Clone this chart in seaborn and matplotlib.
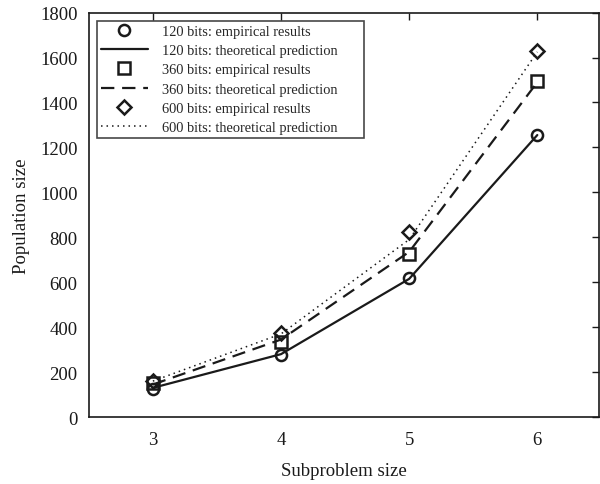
import matplotlib
matplotlib.use("Agg")
import matplotlib.pyplot as plt
import seaborn as sns
import pandas as pd

sizes = [3, 4, 5, 6]
emp_120 = [125, 275, 618, 1255]
theo_120 = [130, 280, 615, 1255]
emp_360 = [150, 333, 726, 1495]
theo_360 = [145, 345, 735, 1490]
emp_600 = [162, 375, 822, 1630]
theo_600 = [160, 370, 790, 1625]

labels_emp = ["120 bits: empirical results", "360 bits: empirical results", "600 bits: empirical results"]
labels_theo = ["120 bits: theoretical prediction", "360 bits: theoretical prediction", "600 bits: theoretical prediction"]
xticks = [3, 4, 5, 6]
yticks = [0, 200, 400, 600, 800, 1000, 1200, 1400, 1600, 1800]

sns.set_style("white")
plt.rcParams['font.family'] = ['Liberation Serif', 'DejaVu Serif']
plt.rcParams['mathtext.fontset'] = 'stix'

fig = plt.figure(figsize=(6.0, 4.85), dpi=100)
ax = fig.add_axes([0.148, 0.138, 0.850, 0.834])

emps = [emp_120, emp_360, emp_600]
theos = [theo_120, theo_360, theo_600]
markers = ["o", "s", "D"]
msizes = [8, 8, 7]
linestyles = ["-", (0, (6, 3.5)), (0, (1, 2.6))]
lws = [1.6, 1.6, 1.1]

handles = []
for emp, theo, mk, ms, ls, lw, le, lt in zip(emps, theos, markers, msizes, linestyles, lws, labels_emp, labels_theo):
    df = pd.DataFrame({"x": sizes, "emp": emp, "theo": theo})
    sns.lineplot(data=df, x="x", y="theo", ax=ax, color="#1a1a1a", lw=lw,
                 linestyle=ls, legend=False)
    line = ax.lines[-1]
    line.set_linestyle(ls)
    h_m, = ax.plot(df["x"], df["emp"], linestyle="none", marker=mk, ms=ms,
                   mfc="none", mec="#1a1a1a", mew=1.8)
    h_m.set_label(le)
    line.set_label(lt + "\u2003\u2002")
    handles += [h_m, line]

ax.set_xlim(2.5, 6.48)
ax.set_ylim(0, 1800)
ax.set_xticks(xticks)
ax.set_yticks(yticks)
ax.tick_params(direction="in", length=5, width=1, top=True, right=True,
               labelsize=13.5, colors="#1a1a1a", pad=8)
ax.tick_params(axis="x", pad=10)
for s in ax.spines.values():
    s.set_color("#1a1a1a")
    s.set_linewidth(1.2)
    s.set_visible(True)
ax.set_xlabel("Subproblem size", fontsize=13.5, labelpad=10, color="#1a1a1a")
ax.set_ylabel("Population size", fontsize=13.5, labelpad=7, color="#1a1a1a")

leg = ax.legend(handles=handles, loc="upper left", bbox_to_anchor=(0.016, 0.98),
                fontsize=10.4, frameon=True, fancybox=False, edgecolor="#1a1a1a",
                handlelength=3.2, handletextpad=1.0, labelspacing=0.42,
                borderpad=0.3, borderaxespad=0)
leg.get_frame().set_linewidth(1.2)

fig.savefig("out.png", dpi=100)
